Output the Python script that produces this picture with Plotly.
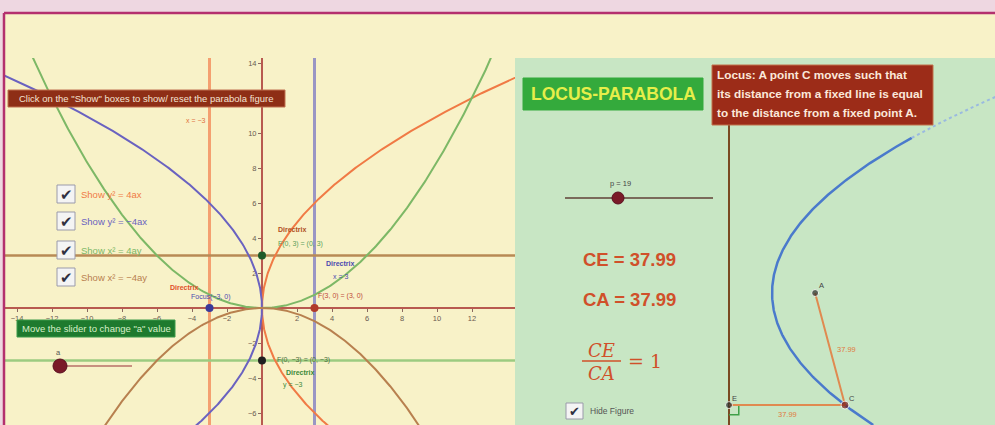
import numpy as np
import plotly.graph_objects as go

# ---------------- data ----------------
a_value = 3                                   # parameter "a" of the four parabolas
x_tick_vals = [-14, -12, -10, -8, -6, -4, -2, 2, 4, 6, 8, 10, 12]
y_tick_vals = [-6, -4, -2, 2, 4, 6, 8, 10, 14]   # 12 is hidden behind the text box
parabola_names = ["y² = 4ax", "y² = −4ax", "x² = 4ay", "x² = −4ay"]
checkbox_labels = ["Show y² = 4ax", "Show y² = −4ax", "Show x² = 4ay", "Show x² = −4ay"]
parabola_colors = ["#F07A45", "#6A62C0", "#7DB866", "#B8804F"]
directrix_colors = ["#F4A070", "#9A96C4", "#9CCB80", "#B88A55"]
focus_colors = ["#B03A2A", "#3A3A9A", "#1E5A28", "#202020"]

# right panel (locus construction)
focus_distance = 28.2     # distance of fixed point A from the fixed line
CE_value = 37.99
CA_value = 37.99
p_slider_value = 19

# ---------------- layout helpers ----------------
W, H = 995, 425
def px(x): return x / W
def py(y): return 1 - y / H

# left graphics view geometry (pixels)
L_x0, L_x1, V_top = 5, 515, 58
ox, oy, sc = 262, 308, 17.5
xr1 = [(L_x0 - ox) / sc, (L_x1 - ox) / sc]
yr1 = [(oy - H) / sc, (oy - V_top) / sc]

# right graphics view geometry (pixels)
R_x0 = 515
dx_pix, vy_pix, sc2 = 729, 293, 3.0534
xr2 = [(R_x0 - dx_pix) / sc2, (W - dx_pix) / sc2]
yr2 = [(vy_pix - H) / sc2, (vy_pix - V_top) / sc2]

fig = go.Figure()
a = a_value
t = np.linspace(-17, 17, 500)

# directrices
fig.add_trace(go.Scatter(x=[-a, -a], y=yr1, mode="lines", line=dict(color=directrix_colors[0], width=3), hoverinfo="skip"))
fig.add_trace(go.Scatter(x=[a, a], y=yr1, mode="lines", line=dict(color=directrix_colors[1], width=3), hoverinfo="skip"))
fig.add_trace(go.Scatter(x=xr1, y=[-a, -a], mode="lines", line=dict(color=directrix_colors[2], width=2.5), hoverinfo="skip"))
fig.add_trace(go.Scatter(x=xr1, y=[a, a], mode="lines", line=dict(color=directrix_colors[3], width=2.5), hoverinfo="skip"))

# parabolas
curves = [
    (t**2 / (4 * a), t),
    (-t**2 / (4 * a), t),
    (t, t**2 / (4 * a)),
    (t, -t**2 / (4 * a)),
]
for (cx, cy), col in zip(curves, parabola_colors):
    fig.add_trace(go.Scatter(x=cx, y=cy, mode="lines", line=dict(color=col, width=2), hoverinfo="skip"))

# foci
foci = [(a, 0), (-a, 0), (0, a), (0, -a)]
fig.add_trace(go.Scatter(x=[f[0] for f in foci], y=[f[1] for f in foci], mode="markers",
                         marker=dict(size=8, color=focus_colors), hoverinfo="skip"))

# ---------- right panel ----------
p = focus_distance
yy = np.linspace(yr2[0], 50.8, 300)
fig.add_trace(go.Scatter(x=yy**2 / (2 * p) + p / 2, y=yy, mode="lines", xaxis="x2", yaxis="y2",
                         line=dict(color="#4A7ACC", width=2.5), hoverinfo="skip"))
yy2 = np.linspace(50.8, 66, 60)
fig.add_trace(go.Scatter(x=yy2**2 / (2 * p) + p / 2, y=yy2, mode="lines", xaxis="x2", yaxis="y2",
                         line=dict(color="#9ABAE0", width=2, dash="dot"), hoverinfo="skip"))
# directrix (fixed line)
fig.add_trace(go.Scatter(x=[0, 0], y=[yr2[0], (vy_pix - 65) / sc2], mode="lines", xaxis="x2", yaxis="y2",
                         line=dict(color="#7A4A22", width=2), hoverinfo="skip"))
xC = CE_value
yC = -np.sqrt(2 * p * (xC - p / 2))
# right angle mark at E
fig.add_trace(go.Scatter(x=[0, 3.2, 3.2, 0], y=[yC, yC, yC - 3.2, yC - 3.2], mode="lines", xaxis="x2", yaxis="y2",
                         line=dict(color="#3FA048", width=1.5), hoverinfo="skip"))
fig.add_trace(go.Scatter(x=[0, xC, p], y=[yC, yC, 0], mode="lines", xaxis="x2", yaxis="y2",
                         line=dict(color="#E08A50", width=2), hoverinfo="skip"))
fig.add_trace(go.Scatter(x=[p, xC, 0], y=[0, yC, yC], mode="markers", xaxis="x2", yaxis="y2",
                         marker=dict(size=[7, 8, 7], color=["#2A2A2A", "#7A1A1A", "#2A2A2A"]), hoverinfo="skip"))

# ---------------- shapes ----------------
shapes = []
# page background bands
shapes.append(dict(type="rect", xref="paper", yref="paper", x0=0, x1=1, y0=0, y1=1,
                   fillcolor="#EED7E1", line_width=0, layer="below"))
shapes.append(dict(type="rect", xref="paper", yref="paper", x0=px(4), x1=1, y0=0, y1=py(13),
                   fillcolor="#F8F2C8", line_width=0, layer="below"))
shapes.append(dict(type="rect", xref="paper", yref="paper", x0=px(R_x0), x1=1, y0=0, y1=py(V_top),
                   fillcolor="#C8E6C4", line_width=0, layer="below"))
shapes.append(dict(type="line", xref="paper", yref="paper", x0=px(4), x1=1, y0=py(13), y1=py(13),
                   line=dict(color="#B4306E", width=2.5), layer="above"))
shapes.append(dict(type="line", xref="paper", yref="paper", x0=px(4), x1=px(4), y0=0, y1=py(13),
                   line=dict(color="#B4306E", width=2.5), layer="above"))

def box(x0, y0, x1, y1, fill, border=None):
    shapes.append(dict(type="rect", xref="paper", yref="paper", x0=px(x0), x1=px(x1), y0=py(y1), y1=py(y0),
                       fillcolor=fill, line=dict(color=border or fill, width=1), layer="above"))

box(8, 90, 285, 107, "#8E2E16", "#C07050")
box(17, 320, 175, 337, "#1E7A2E", "#3C9A4A")
box(523, 78, 703, 110, "#34AA3C")
box(712, 65, 933, 125, "#9C2C18", "#C0704A")

# checkboxes
cb_y = [194, 221, 250, 277]
for yv in cb_y:
    shapes.append(dict(type="rect", xref="paper", yref="paper", x0=px(57), x1=px(75), y0=py(yv + 9), y1=py(yv - 9),
                       fillcolor="#F4F4F4", line=dict(color="#9A9AAA", width=1), layer="above"))
shapes.append(dict(type="rect", xref="paper", yref="paper", x0=px(566), x1=px(583), y0=py(419), y1=py(403),
                   fillcolor="#F4F4F4", line=dict(color="#9A9AAA", width=1), layer="above"))

# sliders
shapes.append(dict(type="line", xref="paper", yref="paper", x0=px(60), x1=px(132), y0=py(366), y1=py(366),
                   line=dict(color="#C89080", width=2), layer="above"))
shapes.append(dict(type="circle", xref="paper", yref="paper", x0=px(53), x1=px(67), y0=py(373), y1=py(359),
                   fillcolor="#7A1A28", line=dict(color="#5A1020", width=1), layer="above"))
shapes.append(dict(type="line", xref="paper", yref="paper", x0=px(565), x1=px(713), y0=py(198), y1=py(198),
                   line=dict(color="#7A6A5A", width=2), layer="above"))
shapes.append(dict(type="circle", xref="paper", yref="paper", x0=px(612), x1=px(624), y0=py(204), y1=py(192),
                   fillcolor="#7A1A28", line=dict(color="#5A1020", width=1), layer="above"))
# fraction bar
shapes.append(dict(type="line", xref="paper", yref="paper", x0=px(582), x1=px(621), y0=py(361), y1=py(361),
                   line=dict(color="#D0502A", width=1.5), layer="above"))

# ---------------- annotations ----------------
ann = []
def txt(x, y, s, size=7, color="#333", bold=False, anchor="center", family="Liberation Sans", italic=False):
    if bold:
        s = "<b>" + s + "</b>"
    if italic:
        s = "<i>" + s + "</i>"
    ann.append(dict(x=px(x), y=py(y), xref="paper", yref="paper", text=s, showarrow=False,
                    xanchor=anchor, yanchor="middle", font=dict(size=size, color=color, family=family)))

txt(146, 98.5, 'Click on the "Show" boxes to show/ reset the parabola figure', 9.5, "#F4E2D2")
txt(96, 328.5, 'Move the slider to change "a" value', 9.5, "#D8F0C8")
txt(613, 94, "LOCUS-PARABOLA", 17.5, "#E6EE4A", bold=True)
txt(715, 75, "Locus: A point C moves such that", 11.8, "#FBE8DA", bold=True, anchor="left")
txt(715, 94, "its distance from a fixed line is equal", 11.8, "#FBE8DA", bold=True, anchor="left")
txt(715, 113, "to the distance from a fixed point A.", 11.8, "#FBE8DA", bold=True, anchor="left")

for yv, lab, col in zip(cb_y, checkbox_labels, parabola_colors):
    txt(66, yv, "✔", 15, "#303040")
    txt(79, yv, lab, 9.5, col, anchor="left")
txt(574.5, 411, "✔", 13, "#303040")
txt(588, 411, "Hide Figure", 8.5, "#555", anchor="left")

txt(58, 352, "a", 7.5, "#555")
txt(620, 184, "p = %d" % p_slider_value, 7.5, "#444")

txt(581, 259, "CE = %.2f" % CE_value, 18.5, "#D0502A", bold=True, anchor="left")
txt(581, 299, "CA = %.2f" % CA_value, 18.5, "#D0502A", bold=True, anchor="left")
txt(601, 350, "CE", 18, "#D0502A", italic=True, family="DejaVu Serif")
txt(601, 373, "CA", 18, "#D0502A", italic=True, family="DejaVu Serif")
txt(645, 361, "= 1", 19, "#D0502A", family="DejaVu Serif")

# left graph labels
txt(196, 121, "x = −%d" % a, 7, "#E07040")
txt(184, 287, "Directrix", 7, "#E0502A", bold=True)
txt(211, 297, "Focus(−%d, 0)" % a, 7, "#4A4AB0")
txt(340, 296, "F(%d, 0) = (%d, 0)" % (a, a), 7, "#C04A3A")
txt(292, 229, "Directrix", 7, "#B0501E", bold=True)
txt(300, 244, "F(0, %d) = (0, %d)" % (a, a), 7, "#5AA05A")
txt(340, 263, "Directrix", 7, "#4A4AB0", bold=True)
txt(340, 276, "x = %d" % a, 7, "#4A4AB0")
txt(303, 360, "F(0, −%d) = (0, −%d)" % (a, a), 7, "#507040")
txt(300, 372, "Directrix", 7, "#3A8A3A", bold=True)
txt(293, 385, "y = −%d" % a, 7, "#3A8A3A")

# right panel labels
def txt2(x, y, s, size=7, color="#333", dxp=0, dyp=0):
    ann.append(dict(x=x, y=y, xref="x2", yref="y2", text=s, showarrow=False, xshift=dxp, yshift=dyp,
                    font=dict(size=size, color=color, family="Liberation Sans")))
txt2(p, 0, "A", 7.5, "#444", 6, 8)
txt2(xC, yC, "C", 7.5, "#444", 7, 7)
txt2(0, yC, "E", 7.5, "#444", 5, 7)
txt2(xC / 2, yC, "%.2f" % CE_value, 7.5, "#E07A40", 0, -9)
txt2((xC + p) / 2, yC / 2, "%.2f" % CA_value, 7.5, "#E07A40", 16, 0)

fig.update_layout(
    width=W, height=H, margin=dict(l=0, r=0, t=0, b=0),
    paper_bgcolor="#EED7E1", plot_bgcolor="rgba(0,0,0,0)",
    showlegend=False, shapes=shapes, annotations=ann,
    xaxis=dict(domain=[px(L_x0), px(L_x1)], range=xr1, anchor="free", position=py(oy),
               showgrid=False, zeroline=False, showline=True, linecolor="#B85A50", linewidth=2,
               tickvals=x_tick_vals, ticks="outside", ticklen=3, tickcolor="#8A6A60",
               tickfont=dict(size=7.5, color="#6A5A50", family="Liberation Sans"), layer="below traces"),
    yaxis=dict(domain=[0, py(V_top)], range=yr1, anchor="free", position=px(ox),
               showgrid=False, zeroline=False, showline=True, linecolor="#B85A50", linewidth=2,
               tickvals=y_tick_vals, ticks="outside", ticklen=3, tickcolor="#8A6A60",
               tickfont=dict(size=7.5, color="#6A5A50", family="Liberation Sans"), layer="below traces"),
    xaxis2=dict(domain=[px(R_x0), 1], range=xr2, visible=False, anchor="y2"),
    yaxis2=dict(domain=[0, py(V_top)], range=yr2, visible=False, anchor="x2"),
)

fig.write_html("out.html", config={"displayModeBar": False},
               post_script="document.body.style.margin='0';document.body.style.overflow='hidden';")
